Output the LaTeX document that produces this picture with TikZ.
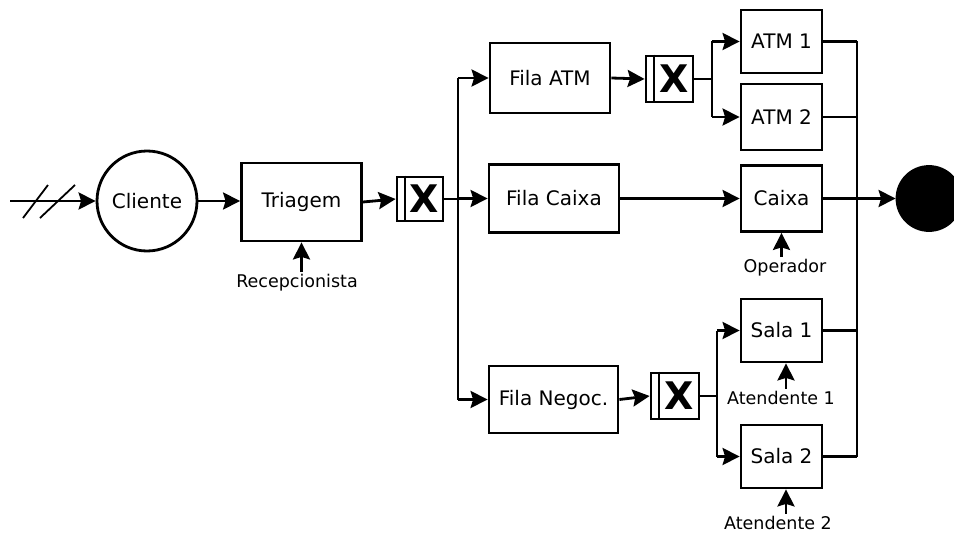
\documentclass[tikz,border=0pt]{standalone}
\usepackage{fontspec}
\setmainfont{DejaVu Sans}
\usetikzlibrary{arrows.meta}
\begin{document}
\begin{tikzpicture}[x=1pt,y=-1pt,
  line width=2.8pt,
  arr/.style={-{Stealth[length=17pt,width=17pt,inset=2.5pt]}},
  box/.style={draw,line width=2.8pt,inner sep=0pt,font=\fontsize{20}{22}\selectfont},
  lab/.style={inner sep=1pt,font=\fontsize{17.5}{19}\selectfont},
  xbox/.style={draw,line width=2.8pt,inner sep=0pt,font=\fontsize{38}{38}\bfseries\selectfont}]
\clip (0,0) rectangle (954,535);
\useasboundingbox (0,0) rectangle (954,535);
% nodes
\node[draw,circle,line width=2.8pt,minimum size=100pt,inner sep=0pt,font=\fontsize{20}{22}\selectfont] (cliente) at (147,201) {Cliente};
\node[box,minimum width=120pt,minimum height=78pt] (triagem) at (301.5,202) {Triagem};
\node[lab] (recep) at (297,283) {Recepcionista};
\node[xbox,minimum width=46pt,minimum height=44pt] (x1) at (420,199) {\hspace*{9pt}X};
\node[box,minimum width=120pt,minimum height=70pt] (filaatm) at (550,78) {Fila ATM};
\node[box,minimum width=130pt,minimum height=68pt] (filacaixa) at (554,198.5) {Fila Caixa};
\node[box,minimum width=129pt,minimum height=67pt] (filanegoc) at (553.5,399.5) {Fila Negoc.};
\node[xbox,minimum width=47pt,minimum height=46pt] (x2) at (669.5,79) {\hspace*{9pt}X};
\node[xbox,minimum width=48pt,minimum height=46pt] (x3) at (675,396) {\hspace*{9pt}X};
\node[box,minimum width=81pt,minimum height=63pt] (atm1) at (781.5,41.5) {ATM 1};
\node[box,minimum width=81pt,minimum height=66pt] (atm2) at (781.5,117) {ATM 2};
\node[box,minimum width=81pt,minimum height=66pt] (caixa) at (781.5,198.5) {Caixa};
\node[lab] (oper) at (785,268) {Operador};
\node[box,minimum width=81pt,minimum height=63pt] (sala1) at (781.5,330.5) {Sala 1};
\node[lab] (at1) at (781,398) {Atendente 1};
\node[box,minimum width=81pt,minimum height=63pt] (sala2) at (781.5,456.5) {Sala 2};
\node[lab] (at2) at (778,523) {Atendente 2};
\node[draw,circle,fill=black,minimum size=64pt,inner sep=0pt] (fim) at (929,198.5) {};
% inner lines of X boxes
\foreach \b in {x1,x2,x3}
  \draw[line width=2pt] ([xshift=9pt]\b.north west) -- ([xshift=9pt]\b.south west);
% coordinates
\coordinate (src) at (10,201);
\coordinate (s1a) at (23,218); \coordinate (s1b) at (48,185);
\coordinate (s2a) at (40,218); \coordinate (s2b) at (75,185);
\coordinate (j1) at (458,199);
\coordinate (j1t) at (458,78);
\coordinate (j1m) at (458,198.5);
\coordinate (j1b) at (458,399.5);
\coordinate (j2) at (712,79);
\coordinate (j2t) at (712,41.5);
\coordinate (j2b) at (712,117);
\coordinate (j3) at (717,396);
\coordinate (j3t) at (717,330.5);
\coordinate (j3b) at (717,456.5);
\coordinate (c1) at (857,41.5);
\coordinate (c2) at (857,117);
\coordinate (c4) at (857,330.5);
\coordinate (c5) at (857,456.5);
% connectors
\draw[arr] (src) -- (cliente.west);
\draw[line width=1.8pt] (s1a) -- (s1b);
\draw[line width=1.8pt] (s2a) -- (s2b);
\draw[arr] (cliente.east) -- (cliente.east -| triagem.west);
\draw[arr] (triagem.east) -- (x1.west);
\draw (x1.east) -- (j1);
\draw (j1t) -- (j1b);
\draw[arr] (j1t) -- (filaatm.west);
\draw[arr] (j1m) -- (filacaixa.west);
\draw[arr] (j1b) -- (filanegoc.west);
\draw[arr] (filaatm.east) -- (x2.west);
\draw (x2.east) -- (j2);
\draw (j2t) -- (j2b);
\draw[arr] (j2t) -- (atm1.west);
\draw[arr] (j2b) -- (atm2.west);
\draw[arr] (filacaixa.east) -- (caixa.west);
\draw[arr] (filanegoc.east) -- (x3.west);
\draw (x3.east) -- (j3);
\draw (j3t) -- (j3b);
\draw[arr] (j3t) -- (sala1.west);
\draw[arr] (j3b) -- (sala2.west);
\draw (atm1.east) -- (c1);
\draw (atm2.east) -- (c2);
\draw (sala1.east) -- (c4);
\draw (sala2.east) -- (c5);
\draw (c1) -- (c5);
\draw[arr] (caixa.east) -- (fim.west);
\draw[arr] (recep.north -| triagem.south) -- (triagem.south);
\draw[arr] (oper.north -| caixa.south) -- (caixa.south);
\draw[arr] ([xshift=4.5pt]at1.north -| sala1.south) -- ([xshift=4.5pt]sala1.south);
\draw[arr] ([xshift=4.5pt]at2.north -| sala2.south) -- ([xshift=4.5pt]sala2.south);
\end{tikzpicture}
\end{document}
